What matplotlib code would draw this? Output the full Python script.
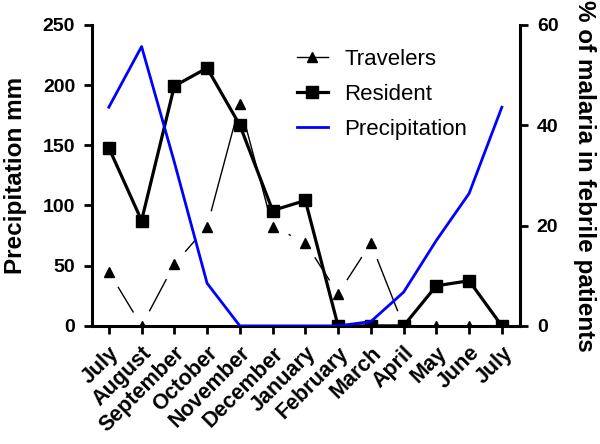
import numpy as np
import matplotlib
matplotlib.use('Agg')
import matplotlib.pyplot as plt

plt.rcParams['font.family'] = ['Liberation Sans', 'DejaVu Sans']

months = ['July', 'August', 'September', 'October', 'November', 'December',
          'January', 'February', 'March', 'April', 'May', 'June', 'July']

# % of malaria in febrile patients (right axis)
travelers = [10.8, 0, 12.3, 19.8, 44.2, 19.8, 16.6, 6.4, 16.5, 0, 0, 0, 0]
resident = [35.5, 21, 47.8, 51.4, 40, 23, 25, 0, 0, 0, 8, 9, 0]
# precipitation in mm (left axis)
precip = [181.6, 232, 136, 35.4, 0, 0, 0, 0, 3.6, 28, 71, 110, 181.6]

x = np.arange(len(months))

fig = plt.figure(figsize=(6, 4.44), dpi=100)
ax = fig.add_axes([0.153, 0.266, 0.714, 0.678])
ax2 = ax.twinx()
ax.set_zorder(ax2.get_zorder() + 1)
ax.patch.set_visible(False)

# travelers: thin line, with gaps cut around the markers
lt, = ax2.plot(x, travelers, color='black', lw=1.0, marker='^', ms=7.5,
               label='Travelers', zorder=1)
ax2.plot(x, travelers, ls='none', marker='o', ms=23, mfc='white',
         mec='white', zorder=1.5)
ax2.plot(x, travelers, ls='none', marker='^', ms=7.5, color='black', zorder=3)

lr, = ax2.plot(x, resident, color='black', lw=2.3, marker='s', ms=8,
               label='Resident', zorder=4)
lp, = ax.plot(x, precip, color='#0000ff', lw=2.0, label='Precipitation', zorder=5)

ax.set_xlim(-0.52, 12.56)
ax.set_ylim(0, 250)
ax2.set_ylim(0, 60)
ax.set_yticks([0, 50, 100, 150, 200, 250])
ax2.set_yticks([0, 20, 40, 60])
ax.set_xticks(x)

for a in (ax, ax2):
    a.spines['top'].set_visible(False)
    for s in a.spines.values():
        s.set_linewidth(2.2)
    a.tick_params(direction='out', length=6, width=2.0)
    a.tick_params(axis='y', pad=6, labelsize=14)
    for t in a.get_yticklabels():
        t.set_fontweight('bold')
ax.tick_params(axis='x', pad=6)
ax.spines['right'].set_visible(False)
ax2.spines['left'].set_visible(False)
ax2.spines['bottom'].set_visible(False)

ax.set_xticklabels(months, rotation=45, ha='right', rotation_mode='anchor',
                   fontsize=15.5, fontweight='bold')

ax.set_ylabel('Precipitation mm', fontsize=17.5, fontweight='bold', labelpad=11)
ax2.set_ylabel('% of malaria in febrile patients', fontsize=17.5,
               fontweight='bold', rotation=-90, labelpad=27)

ax.legend(handles=[lt, lr, lp], loc='upper left', bbox_to_anchor=(0.452, 0.958),
          frameon=False, fontsize=16, handlelength=1.4, handletextpad=0.75,
          labelspacing=0.63, borderpad=0)

fig.savefig('out.png', dpi=100)
